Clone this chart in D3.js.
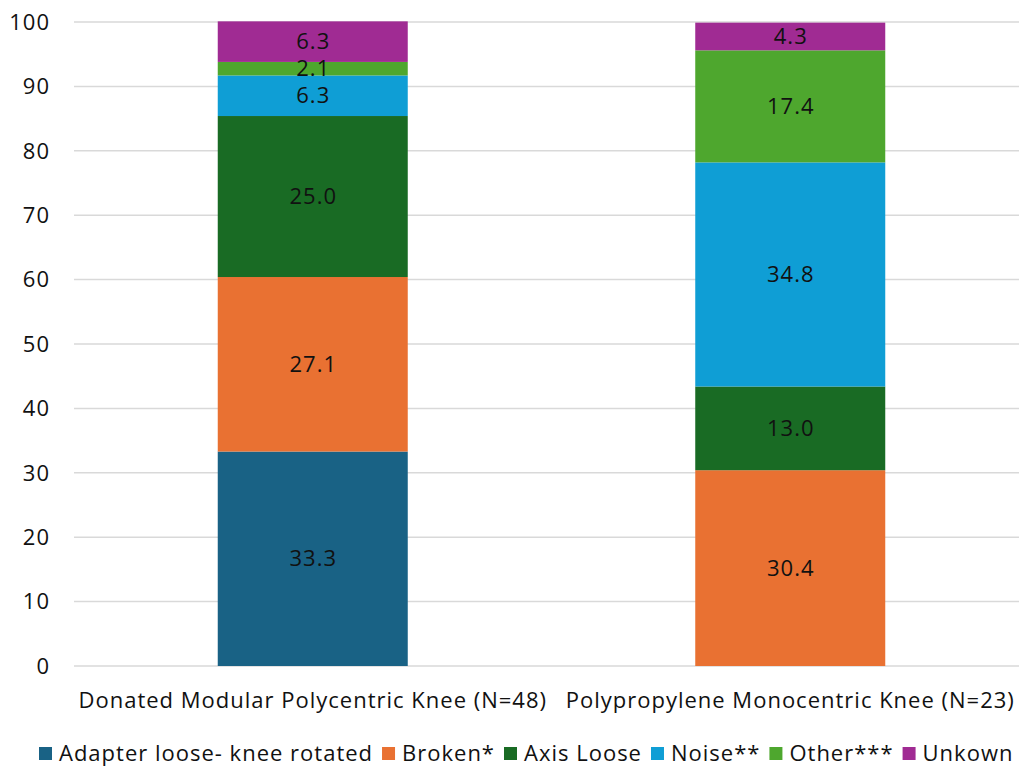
<!DOCTYPE html>
<html><head><meta charset="utf-8">
<script src="https://cdn.jsdelivr.net/npm/d3@7"></script>
<style>body{margin:0;background:#fff}svg{display:block}text{font-family:"Open Sans",sans-serif;letter-spacing:1px}</style>
</head><body><svg id="c" width="1019" height="768"></svg>
<script>
const categories = ["Donated Modular Polycentric Knee (N=48)", "Polypropylene Monocentric Knee (N=23)"];
const seriesNames = ["Adapter loose- knee rotated", "Broken*", "Axis Loose", "Noise**", "Other***", "Unkown"];
const adapterLoose = [33.3, 0];
const broken = [27.1, 30.4];
const axisLoose = [25.0, 13.0];
const noise = [6.3, 34.8];
const other = [2.1, 17.4];
const unknown = [6.3, 4.3];
const yTicks = [0, 10, 20, 30, 40, 50, 60, 70, 80, 90, 100];
const colors = ["#196285", "#e97132", "#196b24", "#0f9ed5", "#4ea72e", "#a02b93"];

(function () {
const series = [adapterLoose, broken, axisLoose, noise, other, unknown];
const rows = categories.map((c, i) => {
  const r = {cat: c};
  seriesNames.forEach((s, j) => r[s] = series[j][i]);
  return r;
});
const stack = d3.stack().keys(seriesNames)(rows);

const svg = d3.select("#c");
const mLeft = 74, mRight = 1029, mTop = 22, mBottom = 666;
const x = d3.scaleBand().domain(categories).range([mLeft, mRight]).paddingInner(0).paddingOuter(0);
const y = d3.scaleLinear().domain([0, 100]).range([mBottom, mTop]);
const bw = 190;
const fs = 22;

svg.append("g").selectAll("line").data(yTicks).join("line")
  .attr("x1", mLeft).attr("x2", mRight).attr("y1", d => y(d)).attr("y2", d => y(d))
  .attr("stroke", "#d9d9d9").attr("stroke-width", 1.5);

svg.append("g").selectAll("text").data(yTicks).join("text")
  .attr("x", 50).attr("y", d => y(d)).attr("dy", "0.35em").attr("text-anchor", "end")
  .attr("font-size", fs).attr("fill", "#111").text(d => d);

const g = svg.append("g");
stack.forEach((layer, j) => {
  layer.forEach((d, i) => {
    const v = d[1] - d[0];
    if (v <= 0) return;
    const cx = x(categories[i]) + x.bandwidth() / 2;
    g.append("rect").attr("x", cx - bw / 2).attr("width", bw)
      .attr("y", y(d[1])).attr("height", y(d[0]) - y(d[1])).attr("fill", colors[j]);
  });
});
stack.forEach((layer, j) => {
  layer.forEach((d, i) => {
    const v = d[1] - d[0];
    if (v <= 0) return;
    const cx = x(categories[i]) + x.bandwidth() / 2;
    g.append("text").attr("x", cx + 0.5).attr("y", (y(d[0]) + y(d[1])) / 2).attr("dy", "0.35em")
      .attr("text-anchor", "middle").attr("font-size", fs).attr("fill", "#111")
      .text(v.toFixed(1));
  });
});

svg.append("g").selectAll("text").data(categories).join("text")
  .attr("x", d => x(d) + x.bandwidth() / 2).attr("y", 700).attr("dy", "0.35em")
  .attr("text-anchor", "middle").attr("font-size", fs).attr("fill", "#111").text(d => d);

const leg = svg.append("g");
let lx = 39;
seriesNames.forEach((s, j) => {
  leg.append("rect").attr("x", lx).attr("y", 747).attr("width", 13).attr("height", 13).attr("fill", colors[j]);
  const t = leg.append("text").attr("x", lx + 20).attr("y", 753).attr("dy", "0.35em")
    .attr("font-size", fs).attr("fill", "#111").text(s);
  lx += 20 + t.node().getComputedTextLength() + 9;
});
})();
</script></body></html>
